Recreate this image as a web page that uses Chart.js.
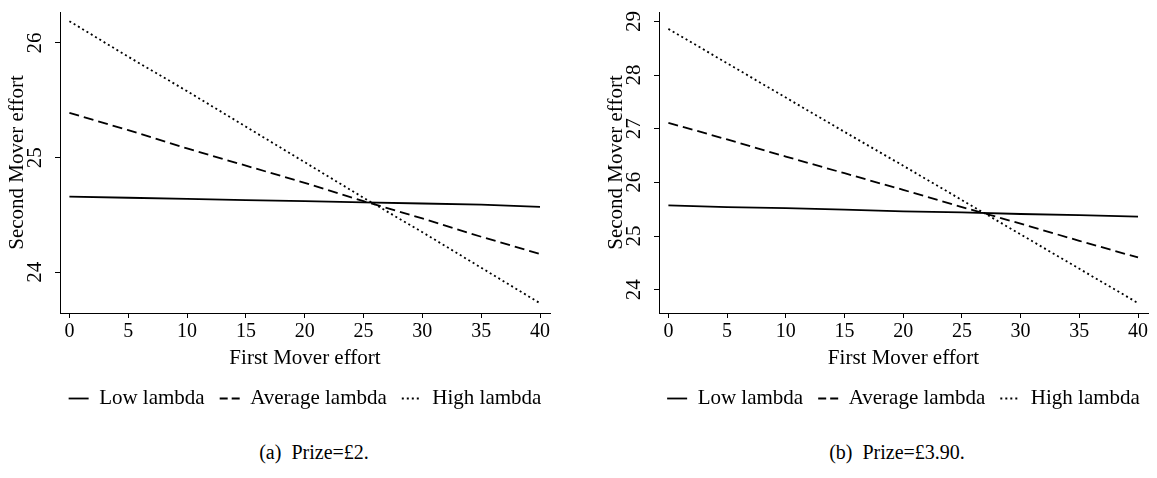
<!DOCTYPE html>
<html>
<head>
<meta charset="utf-8">
<title>Second Mover effort</title>
<script src="https://cdn.jsdelivr.net/npm/chart.js@4.4.1/dist/chart.umd.min.js"></script>
<style>
  html, body { margin: 0; padding: 0; background: #fff; overflow: hidden; }
  #page { position: relative; width: 1157px; height: 478px; overflow: hidden; }
  .panel { position: absolute; top: 0; height: 430px; }
  #panelA { left: 0; width: 610px; }
  #panelB { left: 599px; width: 609px; }
  .caption {
    position: absolute; top: 441px;
    font-family: "Liberation Serif", "DejaVu Serif", serif; font-size: 20px; color: #000;
    transform: translateX(-50%); white-space: nowrap;
  }
</style>
</head>
<body>
<div id="page">
  <div class="panel" id="panelA"><canvas id="chartA"></canvas></div>
  <div class="panel" id="panelB"><canvas id="chartB"></canvas></div>
  <div class="caption" style="left:314px">(a)&nbsp; Prize=£2.</div>
  <div class="caption" style="left:897px">(b)&nbsp; Prize=£3.90.</div>
</div>
<script>
// x values (First Mover effort) where the lines were read
const firstMoverEffort = [0, 5, 10, 15, 20, 25, 30, 35, 40];
const xTicks = [0, 5, 10, 15, 20, 25, 30, 35, 40];

const seriesLabels = ["Low lambda", "Average lambda", "High lambda"];

// (a) Prize = £2
const lowA  = [24.66, 24.65, 24.64, 24.63, 24.62, 24.61, 24.60, 24.59, 24.57];
const avgA  = [25.39, 25.24, 25.08, 24.93, 24.78, 24.62, 24.47, 24.31, 24.16];
const highA = [26.19, 25.88, 25.58, 25.27, 24.96, 24.65, 24.35, 24.04, 23.73];
const yTicksA = [24, 25, 26];

// (b) Prize = £3.90
const lowB  = [25.57, 25.54, 25.52, 25.49, 25.46, 25.44, 25.41, 25.39, 25.36];
const avgB  = [27.11, 26.80, 26.48, 26.17, 25.86, 25.54, 25.23, 24.91, 24.60];
const highB = [28.86, 28.22, 27.58, 26.94, 26.31, 25.67, 25.03, 24.39, 23.75];
const yTicksB = [24, 25, 26, 27, 28, 29];

const lineDashes = [[], [10, 5], [2, 3]];
const legendDashes = [[], [8, 4], [2, 3]];

Chart.defaults.font.family = '"Liberation Serif", "DejaVu Serif", serif';
Chart.defaults.color = "#000";

// no extra room for the end tick labels, the plot box is set by hand
function noPadding(s) {
  s.paddingTop = 0;
  s.paddingBottom = 0;
  s.paddingLeft = 0;
  s.paddingRight = 0;
}

function makeChart(canvasId, series, yMin, yMax, yTicks) {
  const datasets = series.map((vals, i) => ({
    label: seriesLabels[i],
    data: firstMoverEffort.map((x, j) => ({ x: x, y: vals[j] })),
    borderColor: "#000",
    backgroundColor: "#000",
    borderWidth: 1.8,
    borderDash: lineDashes[i],
    pointRadius: 0,
    pointStyle: "line",
    tension: 0
  }));

  return new Chart(document.getElementById(canvasId), {
    type: "line",
    data: { datasets: datasets },
    options: {
      responsive: true,
      maintainAspectRatio: false,
      animation: false,
      layout: { autoPadding: false, padding: { top: 12, right: 0, bottom: 11, left: 0 } },
      plugins: {
        tooltip: { enabled: false },
        legend: {
          position: "bottom",
          labels: {
            usePointStyle: true,
            pointStyle: "line",
            pointStyleWidth: 20,
            padding: 15,
            color: "#000",
            font: { size: 21 },
            generateLabels: chart => {
              const items = Chart.defaults.plugins.legend.labels.generateLabels(chart);
              items.forEach((item, i) => {
                item.lineDash = legendDashes[i];
                item.lineWidth = 1.8;
                item.strokeStyle = "#000";
              });
              return items;
            }
          }
        }
      },
      scales: {
        x: {
          type: "linear",
          min: -0.8,
          max: 40.85,
          afterBuildTicks: s => { s.ticks = xTicks.map(v => ({ value: v })); },
          afterFit: s => { s.height = 60; noPadding(s); },
          ticks: { autoSkip: false, maxRotation: 0, padding: 2, font: { size: 20 }, color: "#000" },
          grid: { drawOnChartArea: false, drawTicks: true, tickLength: 5, color: "#000", lineWidth: 1 },
          border: { display: true, color: "#000", width: 1 },
          title: { display: true, text: "First Mover effort", font: { size: 21 }, padding: { top: 0, bottom: 2 } }
        },
        y: {
          type: "linear",
          position: "left",
          min: yMin,
          max: yMax,
          afterBuildTicks: s => { s.ticks = yTicks.map(v => ({ value: v })); },
          afterFit: s => { s.width = 60; noPadding(s); },
          ticks: { autoSkip: false, minRotation: 90, maxRotation: 90, crossAlign: "center", padding: 9, font: { size: 21 }, color: "#000" },
          grid: { drawOnChartArea: false, drawTicks: true, tickLength: 5, color: "#000", lineWidth: 1 },
          border: { display: true, color: "#000", width: 1 },
          title: { display: true, text: "Second Mover effort", font: { size: 21 }, padding: { top: 5, bottom: 0 } }
        },
        // empty right box so the legend centres under the plot area
        yRight: {
          type: "linear",
          position: "right",
          afterFit: s => { s.width = 60; noPadding(s); },
          ticks: { display: false },
          grid: { display: false },
          border: { display: false }
        }
      }
    }
  });
}

makeChart("chartA", [lowA, avgA, highA], 23.645, 26.27, yTicksA);
makeChart("chartB", [lowB, avgB, highB], 23.565, 29.175, yTicksB);
</script>
</body>
</html>
